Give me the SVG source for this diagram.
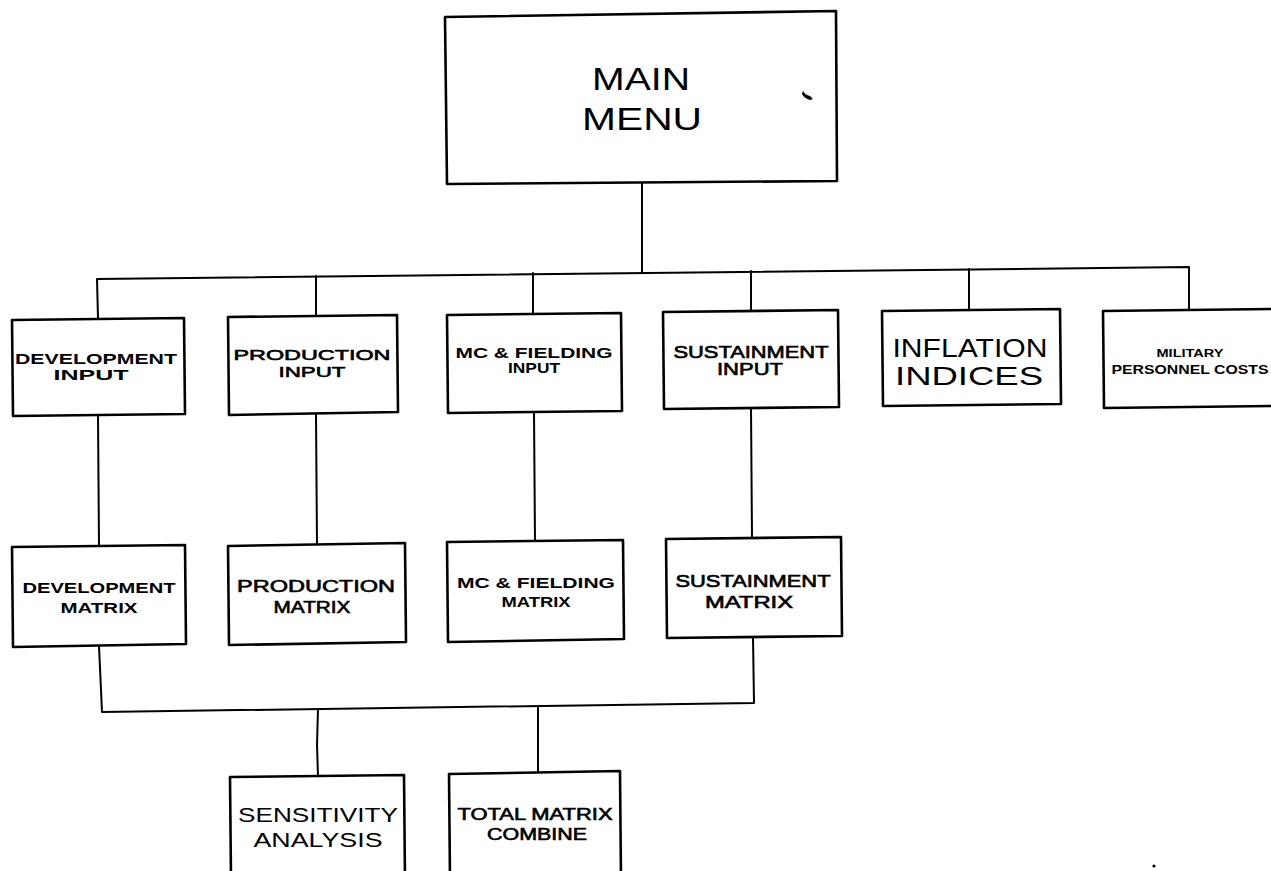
<svg xmlns="http://www.w3.org/2000/svg" width="1271" height="871" viewBox="0 0 1271 871">
  <style>
    .box { fill: #ffffff; stroke: #000000; stroke-width: 2.6; stroke-linejoin: round; }
    .wire { fill: none; stroke: #000000; stroke-width: 2; stroke-linejoin: round; stroke-linecap: round; }
    text { font-family: "Liberation Sans", Arial, sans-serif; fill: #000000; text-anchor: middle; }
    .thin { font-weight: normal; }
    .med { font-weight: normal; stroke: #000000; stroke-width: 0.6; }
    .heavy { font-weight: bold; }
  </style>

  <!-- connectors -->
  <g id="connectors">
    <path class="wire" d="M642,182 L642,272"/>
    <path class="wire" d="M98,318 L97,279 L1189,267 L1189,311"/>
    <path class="wire" d="M316,276 L316,316"/>
    <path class="wire" d="M533,273 L533,314"/>
    <path class="wire" d="M751,271 L751,311"/>
    <path class="wire" d="M969,269 L969,310"/>
    <path class="wire" d="M98,415 L99,546"/>
    <path class="wire" d="M316,414 L317,544"/>
    <path class="wire" d="M534,412 L535,541"/>
    <path class="wire" d="M751,408 L752,538"/>
    <path class="wire" d="M99,646 L102,712 L754,703 L753,637" stroke-width="2.6"/>
    <path class="wire" d="M318,709 L317,745 L318,776" stroke-width="2.6"/>
    <path class="wire" d="M538,706 L538,773" stroke-width="2.6"/>
  </g>

  <g id="main-menu">
    <path class="box" d="M445,17 L836,11 L837,181 L447,184 Z"/>
    <text class="thin" x="641" y="90" font-size="32" textLength="98" lengthAdjust="spacingAndGlyphs">MAIN</text>
    <text class="thin" x="642" y="130" font-size="32" textLength="120" lengthAdjust="spacingAndGlyphs">MENU</text>
  </g>

  <g id="development-input">
    <path class="box" d="M12,320 L184,318 L185,414 L13,416 Z"/>
    <text class="heavy" x="96" y="364" font-size="14" textLength="162" lengthAdjust="spacingAndGlyphs">DEVELOPMENT</text>
    <text class="heavy" x="91" y="380" font-size="14" textLength="75" lengthAdjust="spacingAndGlyphs">INPUT</text>
  </g>

  <g id="production-input">
    <path class="box" d="M228,317 L397,315 L398,412 L229,415 Z"/>
    <text class="med" x="312" y="360" font-size="15" textLength="157" lengthAdjust="spacingAndGlyphs">PRODUCTION</text>
    <text class="med" x="312" y="377" font-size="15" textLength="67" lengthAdjust="spacingAndGlyphs">INPUT</text>
  </g>

  <g id="mc-fielding-input">
    <path class="box" d="M447,315 L621,313 L622,411 L448,413 Z"/>
    <text class="heavy" x="534" y="358" font-size="14" textLength="157" lengthAdjust="spacingAndGlyphs">MC &amp; FIELDING</text>
    <text class="heavy" x="534" y="373" font-size="14" textLength="52" lengthAdjust="spacingAndGlyphs">INPUT</text>
  </g>

  <g id="sustainment-input">
    <path class="box" d="M663,312 L838,310 L839,407 L664,409 Z"/>
    <text class="med" x="751" y="358" font-size="16" textLength="155" lengthAdjust="spacingAndGlyphs">SUSTAINMENT</text>
    <text class="med" x="750" y="375" font-size="16" textLength="66" lengthAdjust="spacingAndGlyphs">INPUT</text>
  </g>

  <g id="inflation-indices">
    <path class="box" d="M882,311 L1060,309 L1061,404 L883,406 Z"/>
    <text class="thin" x="970" y="357" font-size="25" textLength="155" lengthAdjust="spacingAndGlyphs">INFLATION</text>
    <text class="thin" x="969" y="385" font-size="26" textLength="148" lengthAdjust="spacingAndGlyphs">INDICES</text>
  </g>

  <g id="military-personnel-costs">
    <path class="box" d="M1103,311 L1274,309 L1274,406 L1104,408 Z"/>
    <text class="heavy" x="1190" y="357" font-size="10" textLength="67" lengthAdjust="spacingAndGlyphs">MILITARY</text>
    <text class="heavy" x="1190" y="374" font-size="13" textLength="157" lengthAdjust="spacingAndGlyphs">PERSONNEL  COSTS</text>
  </g>

  <g id="development-matrix">
    <path class="box" d="M12,547 L185,545 L186,644 L13,647 Z"/>
    <text class="heavy" x="99" y="593" font-size="14" textLength="153" lengthAdjust="spacingAndGlyphs">DEVELOPMENT</text>
    <text class="heavy" x="99" y="613" font-size="14" textLength="77" lengthAdjust="spacingAndGlyphs">MATRIX</text>
  </g>

  <g id="production-matrix">
    <path class="box" d="M228,546 L405,543 L406,642 L229,645 Z"/>
    <text class="med" x="316" y="592" font-size="16" textLength="158" lengthAdjust="spacingAndGlyphs">PRODUCTION</text>
    <text class="med" x="312" y="613" font-size="16" textLength="77" lengthAdjust="spacingAndGlyphs">MATRIX</text>
  </g>

  <g id="mc-fielding-matrix">
    <path class="box" d="M447,542 L623,540 L624,639 L448,642 Z"/>
    <text class="heavy" x="536" y="588" font-size="14" textLength="158" lengthAdjust="spacingAndGlyphs">MC &amp; FIELDING</text>
    <text class="heavy" x="536" y="607" font-size="14" textLength="69" lengthAdjust="spacingAndGlyphs">MATRIX</text>
  </g>

  <g id="sustainment-matrix">
    <path class="box" d="M666,539 L841,537 L842,636 L667,638 Z"/>
    <text class="med" x="753" y="587" font-size="16" textLength="155" lengthAdjust="spacingAndGlyphs">SUSTAINMENT</text>
    <text class="med" x="749" y="608" font-size="16" textLength="88" lengthAdjust="spacingAndGlyphs">MATRIX</text>
  </g>

  <g id="sensitivity-analysis">
    <path class="box" d="M230,777 L404,775 L405,880 L231,880 Z"/>
    <text class="thin" x="318" y="822" font-size="21" textLength="160" lengthAdjust="spacingAndGlyphs">SENSITIVITY</text>
    <text class="thin" x="318" y="847" font-size="21" textLength="129" lengthAdjust="spacingAndGlyphs">ANALYSIS</text>
  </g>

  <g id="total-matrix-combine">
    <path class="box" d="M449,774 L620,771 L621,880 L450,880 Z"/>
    <text class="med" x="535" y="820" font-size="16" textLength="155" lengthAdjust="spacingAndGlyphs">TOTAL  MATRIX</text>
    <text class="med" x="537" y="840" font-size="16" textLength="100" lengthAdjust="spacingAndGlyphs">COMBINE</text>
  </g>

  <!-- small ink marks -->
  <g id="marks" fill="#000000">
    <path d="M803,91 Q805,95 810,96 L813,99 L810,100 Q804,98 802,94 Z"/>
    <circle cx="1154" cy="866" r="1.6"/>
  </g>
</svg>
